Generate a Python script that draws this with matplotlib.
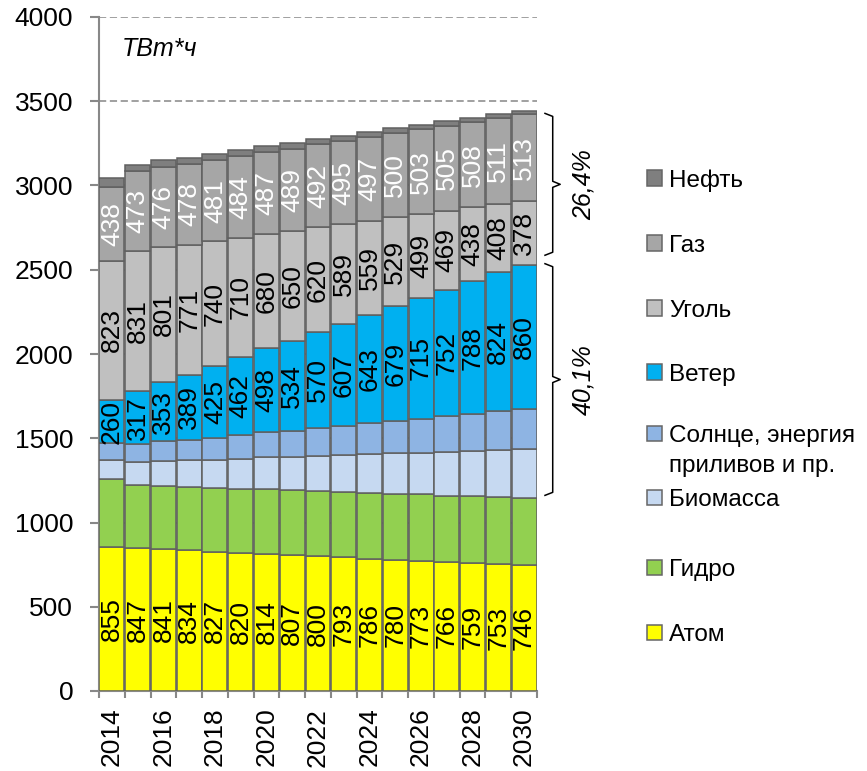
import matplotlib
matplotlib.use("Agg")
import matplotlib.pyplot as plt
import matplotlib.patches as mpatches
import numpy as np

#%%data
years = list(range(2014, 2031))
atom    = [855, 847, 841, 834, 827, 820, 814, 807, 800, 793, 786, 780, 773, 766, 759, 753, 746]
hydro   = [406, 376, 378, 378, 380, 380, 384, 386, 388, 388, 390, 392, 394, 394, 396, 398, 400]
biomass = [111, 135, 147, 156, 166, 178, 188, 196, 208, 218, 228, 238, 248, 258, 269, 281, 289]
solar   = [97, 105, 115, 121, 131, 141, 149, 156, 166, 174, 184, 194, 202, 212, 220, 228, 236]
wind    = [260, 317, 353, 389, 425, 462, 498, 534, 570, 607, 643, 679, 715, 752, 788, 824, 860]
coal    = [823, 831, 801, 771, 740, 710, 680, 650, 620, 589, 559, 529, 499, 469, 438, 408, 378]
gas     = [438, 473, 476, 478, 481, 484, 487, 489, 492, 495, 497, 500, 503, 505, 508, 511, 513]
oil     = [52, 40, 38, 38, 37, 35, 33, 33, 31, 30, 28, 27, 25, 24, 23, 22, 21]

series_names  = ["Атом", "Гидро", "Биомасса", "Солнце, энергия\nприливов и пр.", "Ветер", "Уголь", "Газ", "Нефть"]
series_values = [atom, hydro, biomass, solar, wind, coal, gas, oil]
series_colors = ["#FFFF00", "#92D050", "#C6D9F1", "#8EB4E3", "#00B0F0", "#C0C0C0", "#A6A6A6", "#7F7F7F"]
label_color   = {0: "black", 4: "black", 5: "black", 6: "white"}     #which series get value labels

unit_label = "ТВт*ч"
share_fossil = "26,4%"
share_renew  = "40,1%"

FONT = ["Liberation Sans", "DejaVu Sans"]

#%%plot
W, H = 867, 771
fig = plt.figure(figsize=(W/100, H/100), dpi=100)
ax = fig.add_axes([99/W, 1-691/H, (537-99)/W, (691-17)/H])

x = np.arange(len(years))
bottom = np.zeros(len(years))
tops = []
for i, (vals, col) in enumerate(zip(series_values, series_colors)):
    vals = np.array(vals, dtype=float)
    ax.bar(x, vals, bottom=bottom, width=0.97, color=col, edgecolor="#606060", linewidth=1.1, zorder=3)
    if i in label_color:
        for xi, b, v in zip(x, bottom, vals):
            ax.text(xi, b + v/2, f"{int(v)}", rotation=90, ha="center", va="center",
                    fontsize=19, family=FONT, color=label_color[i], zorder=4)
    bottom = bottom + vals
    tops.append(bottom.copy())

#axes styling
ax.set_xlim(-0.5, len(years)-0.5)
ax.set_ylim(0, 4000)
ax.set_yticks(np.arange(0, 4001, 500))
ax.yaxis.grid(True, ls=(0, (4, 2)), color="#999999", lw=1.3, zorder=0)
ax.set_axisbelow(True)
for s in ["top", "right"]:
    ax.spines[s].set_visible(False)
for s in ["left", "bottom"]:
    ax.spines[s].set_color("#888888")
    ax.spines[s].set_linewidth(1.5)
ax.tick_params(axis="y", length=6.5, width=1.5, color="#888888", pad=12, labelsize=19)
for lab in ax.get_yticklabels():
    lab.set_family(FONT)

ax.set_xticks(x[::2])
ax.set_xticklabels([str(y) for y in years[::2]], rotation=90, fontsize=19, family=FONT)
ax.set_xticks(np.arange(-0.5, len(years)), minor=True)
ax.tick_params(axis="x", which="major", length=0, pad=12)
ax.tick_params(axis="x", which="minor", length=5, width=1.5, color="#888888")

ax.text(0.0525, 0.952, unit_label, transform=ax.transAxes, ha="left", va="center",
        fontsize=18, style="italic", family=FONT)

#braces on the right of the last bar
def brace(ax, y0, y1, x_end=16.81, x_mid=17.11, x_tip=17.4, r=18):
    ym = (y0 + y1)/2
    xs = [x_end, x_mid, x_mid, x_tip, x_mid, x_mid, x_end]
    ys = [y1, y1-r, ym+r, ym, ym-r, y0+r, y0]
    ax.plot(xs, ys, color="black", lw=1.1, clip_on=False, zorder=5)
    return ym

last = len(years)-1
wind_top = tops[4][last]
hydro_top = tops[1][last]
total = tops[-1][last]
ym1 = brace(ax, wind_top + 55, total - 15)
ym2 = brace(ax, hydro_top + 15, wind_top + 5)
ax.text(18.3, ym1, share_fossil, rotation=90, ha="center", va="center", fontsize=18,
        style="italic", family=FONT, clip_on=False)
ax.text(18.3, ym2, share_renew, rotation=90, ha="center", va="center", fontsize=18,
        style="italic", family=FONT, clip_on=False)

#legend drawn by hand (top entry = last series)
legend_y = [178, 243, 308, 372, 433, 497, 567, 632]     #marker centres, px from top
for (name, col), yc in zip(zip(series_names[::-1], series_colors[::-1]), legend_y):
    fig.patches.append(mpatches.Rectangle((647/W, 1-(yc+7.5)/H), 15/W, 15/H, transform=fig.transFigure,
                                          facecolor=col, edgecolor="#666666", lw=1.1))
    for k, line in enumerate(name.split("\n")):
        fig.text(669/W, 1-(yc+9+30*k)/H, line, ha="left", va="baseline", fontsize=17.5, family=FONT)

fig.savefig("out.png", dpi=100)
